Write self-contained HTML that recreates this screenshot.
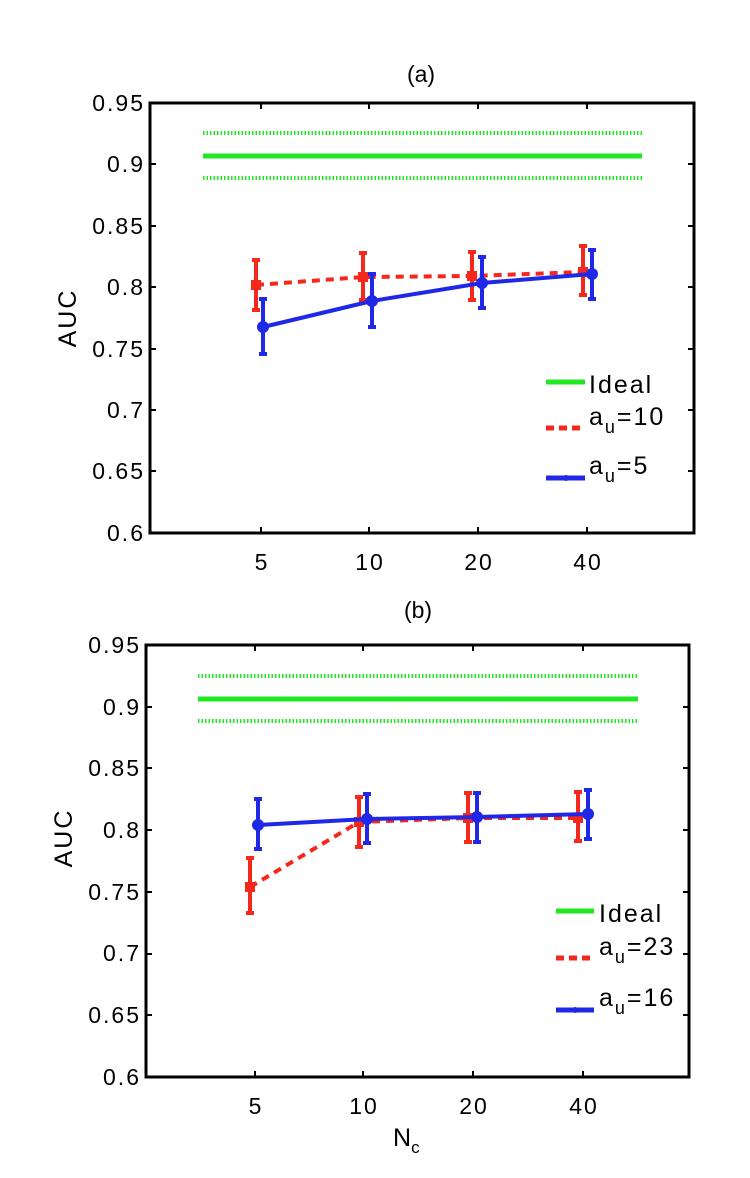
<!DOCTYPE html>
<html><head><meta charset="utf-8"><style>
html,body{margin:0;padding:0;background:#fff;}
svg text{font-family:"Liberation Sans",sans-serif;fill:#000;}
.t{letter-spacing:2px;}
</style></head><body>
<svg width="750" height="1173" viewBox="0 0 750 1173" xmlns="http://www.w3.org/2000/svg">
<!-- Panel A -->
<text x="421" y="82" font-size="23" text-anchor="middle">(a)</text>
<text transform="translate(76,318) rotate(-90)" font-size="25" text-anchor="middle" class="t">AUC</text>
<g font-size="23" text-anchor="end" class="t">
<text x="145" y="111">0.95</text><text x="145" y="172">0.9</text><text x="145" y="234">0.85</text>
<text x="145" y="295">0.8</text><text x="145" y="357">0.75</text><text x="145" y="418">0.7</text>
<text x="145" y="479">0.65</text><text x="145" y="541">0.6</text>
</g>
<g font-size="23" text-anchor="middle" class="t">
<text x="262" y="570">5</text><text x="370" y="570">10</text><text x="479" y="570">20</text><text x="588" y="570">40</text>
</g>
<g stroke="#000" stroke-width="2">
<line x1="150" y1="164" x2="156" y2="164"/><line x1="150" y1="226" x2="156" y2="226"/><line x1="150" y1="287" x2="156" y2="287"/><line x1="150" y1="349" x2="156" y2="349"/><line x1="150" y1="410" x2="156" y2="410"/><line x1="150" y1="471" x2="156" y2="471"/>
<line x1="694" y1="164" x2="688" y2="164"/><line x1="694" y1="226" x2="688" y2="226"/><line x1="694" y1="287" x2="688" y2="287"/><line x1="694" y1="349" x2="688" y2="349"/><line x1="694" y1="410" x2="688" y2="410"/><line x1="694" y1="471" x2="688" y2="471"/>
<line x1="261" y1="533" x2="261" y2="527"/><line x1="369" y1="533" x2="369" y2="527"/><line x1="478" y1="533" x2="478" y2="527"/><line x1="587" y1="533" x2="587" y2="527"/>
<line x1="261" y1="103" x2="261" y2="109"/><line x1="369" y1="103" x2="369" y2="109"/><line x1="478" y1="103" x2="478" y2="109"/><line x1="587" y1="103" x2="587" y2="109"/>
</g>
<line x1="203" y1="156" x2="642" y2="156" stroke="#22e822" stroke-width="5"/>
<line x1="203" y1="133" x2="642" y2="133" stroke="#22e822" stroke-width="4" stroke-dasharray="1.5,2"/>
<line x1="203" y1="178" x2="642" y2="178" stroke="#22e822" stroke-width="4" stroke-dasharray="1.5,2"/>
<g stroke="#f5281e" stroke-width="4" fill="none">
<polyline points="256,285 363,277 472,276 583,272" stroke-dasharray="8,6"/>
<line x1="256" y1="260" x2="256" y2="310"/><line x1="363" y1="253" x2="363" y2="300"/><line x1="472" y1="252" x2="472" y2="300"/><line x1="583" y1="246" x2="583" y2="295"/>
<path d="M252 260h8M252 310h8M359 253h8M359 300h8M468 252h8M468 300h8M579 246h8M579 295h8"/>
</g>
<g fill="#f5281e"><rect x="251" y="280" width="10" height="10"/><rect x="358" y="272" width="10" height="10"/><rect x="467" y="271" width="10" height="10"/><rect x="578" y="267" width="10" height="10"/></g>
<g stroke="#1e28e6" stroke-width="4" fill="none">
<polyline points="263,327 372,301 482,283 592,274"/>
<line x1="263" y1="299" x2="263" y2="354"/><line x1="372" y1="274" x2="372" y2="327"/><line x1="482" y1="257" x2="482" y2="308"/><line x1="592" y1="250" x2="592" y2="299"/>
<path d="M259 299h8M259 354h8M368 274h8M368 327h8M478 257h8M478 308h8M588 250h8M588 299h8"/>
</g>
<g fill="#1e28e6"><circle cx="263" cy="327" r="6"/><circle cx="372" cy="301" r="6"/><circle cx="482" cy="283" r="6"/><circle cx="592" cy="274" r="6"/></g>
<rect x="150" y="103" width="544" height="430" fill="none" stroke="#000" stroke-width="3"/>
<line x1="546" y1="382" x2="585" y2="382" stroke="#22e822" stroke-width="5"/>
<line x1="546" y1="428" x2="585" y2="428" stroke="#f5281e" stroke-width="5" stroke-dasharray="8,5"/>
<line x1="546" y1="478" x2="585" y2="478" stroke="#1e28e6" stroke-width="5"/><circle cx="566" cy="478" r="3" fill="#1e28e6"/>
<g font-size="25" class="t"><text x="589" y="393">Ideal</text>
<text x="589" y="425">a<tspan font-size="18" dy="8">u</tspan><tspan dy="-8">=10</tspan></text>
<text x="589" y="474">a<tspan font-size="18" dy="8">u</tspan><tspan dy="-8">=5</tspan></text></g>

<!-- Panel B -->
<text x="418" y="618" font-size="23" text-anchor="middle">(b)</text>
<text transform="translate(72,838) rotate(-90)" font-size="25" text-anchor="middle" class="t">AUC</text>
<g font-size="23" text-anchor="end" class="t">
<text x="141" y="653">0.95</text><text x="141" y="715">0.9</text><text x="141" y="776">0.85</text>
<text x="141" y="838">0.8</text><text x="141" y="900">0.75</text><text x="141" y="961">0.7</text>
<text x="141" y="1023">0.65</text><text x="141" y="1085">0.6</text>
</g>
<g font-size="23" text-anchor="middle" class="t">
<text x="256" y="1114">5</text><text x="364" y="1114">10</text><text x="474" y="1114">20</text><text x="584" y="1114">40</text>
</g>
<text x="393" y="1146" font-size="25">N<tspan font-size="17" dy="7">c</tspan></text>
<g stroke="#000" stroke-width="2">
<line x1="146" y1="707" x2="152" y2="707"/><line x1="146" y1="768" x2="152" y2="768"/><line x1="146" y1="830" x2="152" y2="830"/><line x1="146" y1="892" x2="152" y2="892"/><line x1="146" y1="954" x2="152" y2="954"/><line x1="146" y1="1015" x2="152" y2="1015"/>
<line x1="689" y1="707" x2="683" y2="707"/><line x1="689" y1="768" x2="683" y2="768"/><line x1="689" y1="830" x2="683" y2="830"/><line x1="689" y1="892" x2="683" y2="892"/><line x1="689" y1="954" x2="683" y2="954"/><line x1="689" y1="1015" x2="683" y2="1015"/>
<line x1="255" y1="1077" x2="255" y2="1071"/><line x1="363" y1="1077" x2="363" y2="1071"/><line x1="473" y1="1077" x2="473" y2="1071"/><line x1="583" y1="1077" x2="583" y2="1071"/>
<line x1="255" y1="645" x2="255" y2="651"/><line x1="363" y1="645" x2="363" y2="651"/><line x1="473" y1="645" x2="473" y2="651"/><line x1="583" y1="645" x2="583" y2="651"/>
</g>
<line x1="198" y1="699" x2="638" y2="699" stroke="#22e822" stroke-width="5"/>
<line x1="198" y1="676" x2="638" y2="676" stroke="#22e822" stroke-width="4" stroke-dasharray="1.5,2"/>
<line x1="198" y1="721" x2="638" y2="721" stroke="#22e822" stroke-width="4" stroke-dasharray="1.5,2"/>
<g stroke="#f5281e" stroke-width="4" fill="none">
<polyline points="250,887 359,822 468,818 578,818" stroke-dasharray="8,6"/>
<line x1="250" y1="858" x2="250" y2="913"/><line x1="359" y1="797" x2="359" y2="847"/><line x1="468" y1="793" x2="468" y2="842"/><line x1="578" y1="792" x2="578" y2="841"/>
<path d="M246 858h8M246 913h8M355 797h8M355 847h8M464 793h8M464 842h8M574 792h8M574 841h8"/>
</g>
<g fill="#f5281e"><rect x="245" y="882" width="10" height="10"/><rect x="354" y="817" width="10" height="10"/><rect x="463" y="813" width="10" height="10"/><rect x="573" y="813" width="10" height="10"/></g>
<g stroke="#1e28e6" stroke-width="4" fill="none">
<polyline points="258,825 367,819 477,817 588,814"/>
<line x1="258" y1="799" x2="258" y2="849"/><line x1="367" y1="794" x2="367" y2="843"/><line x1="477" y1="793" x2="477" y2="842"/><line x1="588" y1="790" x2="588" y2="839"/>
<path d="M254 799h8M254 849h8M363 794h8M363 843h8M473 793h8M473 842h8M584 790h8M584 839h8"/>
</g>
<g fill="#1e28e6"><circle cx="258" cy="825" r="6"/><circle cx="367" cy="819" r="6"/><circle cx="477" cy="817" r="6"/><circle cx="588" cy="814" r="6"/></g>
<rect x="146" y="645" width="543" height="432" fill="none" stroke="#000" stroke-width="3"/>
<line x1="556" y1="911" x2="594" y2="911" stroke="#22e822" stroke-width="5"/>
<line x1="556" y1="958" x2="594" y2="958" stroke="#f5281e" stroke-width="5" stroke-dasharray="8,5"/>
<line x1="556" y1="1010" x2="594" y2="1010" stroke="#1e28e6" stroke-width="5"/><circle cx="575" cy="1010" r="3" fill="#1e28e6"/>
<g font-size="25" class="t"><text x="599" y="922">Ideal</text>
<text x="599" y="955">a<tspan font-size="18" dy="8">u</tspan><tspan dy="-8">=23</tspan></text>
<text x="599" y="1006">a<tspan font-size="18" dy="8">u</tspan><tspan dy="-8">=16</tspan></text></g>
</svg>
</body></html>
